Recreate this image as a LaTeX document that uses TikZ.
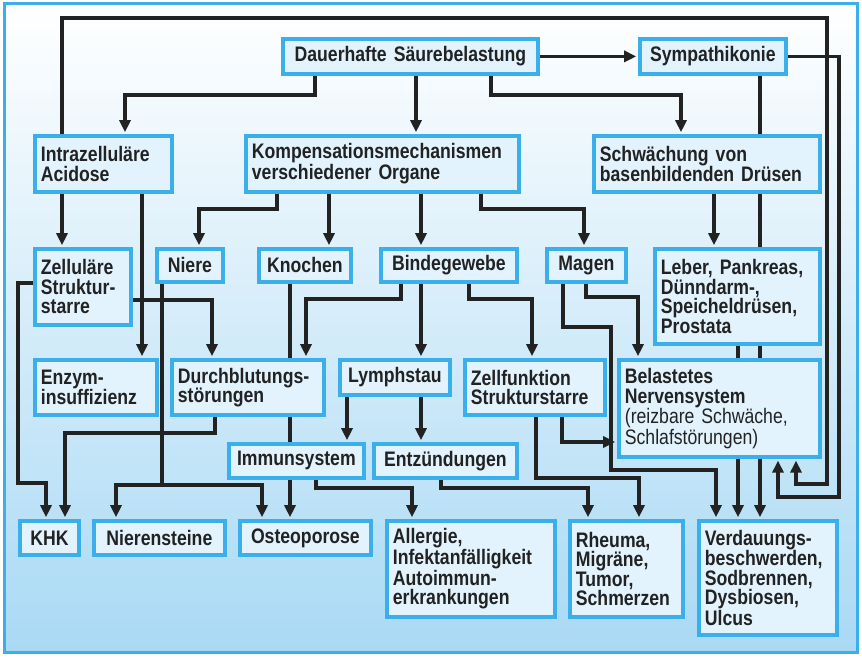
\documentclass[tikz,border=0pt]{standalone}
\usepackage{fontspec}
\setmainfont{Liberation Sans}[FakeStretch=0.84]
\usetikzlibrary{arrows.meta}
\definecolor{bblue}{HTML}{3AAFEA}
\definecolor{bfill}{HTML}{E2F3FD}
\definecolor{bgbot}{HTML}{A9D9F4}
\definecolor{ink}{HTML}{222222}
\pgfdeclarelayer{bg}\pgfdeclarelayer{back}
\pgfsetlayers{back,bg,main}
\tikzset{
 box/.style={draw=bblue,fill=bfill,line width=3.8pt,inner sep=0pt,font=\bfseries\fontsize{21}{19.5}\selectfont,text=ink},
 ln/.style={draw=ink,line width=3.2pt},
 arr/.style={ln,-{Triangle[length=12pt,width=11pt]},shorten >=1.8pt}
}
\newcommand\bx[7][left]{%
 \pgfmathsetmacro\bw{#5-#3}\pgfmathsetmacro\bh{#6-#4}\pgfmathsetmacro\tw{#5-#3-12}%
 \node[box,anchor=north west,minimum width=\bw pt,minimum height=\bh pt,text width=\tw pt,align=#1] (#2) at (#3,#4) {#7};}
\begin{document}
\begin{tikzpicture}[x=1pt,y=-1pt]
\useasboundingbox (0,0) rectangle (862,658);
\begin{pgfonlayer}{back}
\fill[top color=white,bottom color=bgbot] (4,4) rectangle (857,652);
\draw[bblue,line width=3pt] (4,4) rectangle (857,652);
\end{pgfonlayer}
\bx[center]{dau}{281}{37}{536}{72}{Dauerhafte Säurebelastung}
\bx[center]{sym}{638}{37}{784}{72}{Sympathikonie}
\bx{intra}{33}{134}{170}{190}{Intrazelluläre\\Acidose}
\bx{komp}{244}{134}{517}{190}{Kompensationsmechanismen\\verschiedener Organe}
\bx{schw}{592}{134}{818}{190}{Schwächung von\\basenbildenden Drüsen}
\bx{zell}{33}{247}{129}{323}{Zelluläre\\Struktur-\\starre}
\bx[center]{niere}{155}{247}{221}{280}{Niere}
\bx[center]{kno}{257}{247}{349}{280}{Knochen}
\bx[center]{bind}{379}{247}{515}{280}{Bindegewebe}
\bx[center]{mag}{545}{247}{624}{280}{Magen}
\bx{leb}{653}{247}{818}{342}{Leber, Pankreas,\\Dünndarm-,\\Speicheldrüsen,\\Prostata}
\bx{enz}{33}{358}{155}{413}{Enzym-\\insuffizienz}
\bx{durch}{170}{358}{322}{413}{\mbox{Durchblutungs-}\\störungen}
\bx[center]{lym}{338}{358}{448}{393}{Lymphstau}
\bx{zf}{463}{358}{603}{413}{Zellfunktion\\Strukturstarre}
\bx{bel}{617}{358}{818}{455}{Belastetes\\Nervensystem\\{\mdseries(reizbare Schwäche,\\Schlafstörungen)}}
\bx[center]{imm}{227}{442}{362}{476}{Immunsystem}
\bx[center]{ent}{372}{442}{515}{476}{Entzündungen}
\bx[center]{khk}{18}{519}{77}{553}{KHK}
\bx[center]{nst}{92}{519}{223}{553}{Nierensteine}
\bx[center]{ost}{238}{519}{369}{553}{Osteoporose}
\bx{all}{385}{519}{553}{615}{Allergie,\\Infektanfälligkeit\\Autoimmun-\\erkrankungen}
\bx{rh}{568}{519}{681}{615}{Rheuma,\\Migräne,\\Tumor,\\Schmerzen}
\bx{verd}{697}{519}{835}{633}{Verdauungs-\\beschwerden,\\Sodbrennen,\\Dysbiosen,\\Ulcus}
\begin{pgfonlayer}{bg}
\draw[arr] (315,0 |- dau.south) |- (125,95) -- (125,0 |- intra.north);
\draw[arr] (416,0 |- dau.south) -- (416,0 |- komp.north);
\draw[arr] (491,0 |- dau.south) |- (681,95) -- (681,0 |- schw.north);
\draw[arr] (dau.east) -- (sym.west);
\draw[arr] (sym.east) -| (839,497) -| (778,0 |- bel.south);
\draw[arr] (62,0 |- intra.north) |- (827,18) |- (796,484) -- (796,0 |- bel.south);
\draw[arr] (760,0 |- sym.south) -- (760,0 |- verd.north);
\draw[arr] (714,0 |- schw.south) -- (714,0 |- leb.north);
\draw[arr] (738,0 |- leb.south) -- (738,0 |- verd.north);
\draw[arr] (142,0 |- intra.south) -- (142,0 |- enz.north);
\draw[arr] (62,0 |- intra.south) -- (62,0 |- zell.north);
\draw[arr] (zell.west |- 0,283) -| (18,483) -| (46,0 |- khk.north);
\draw[arr] (zell.east |- 0,300) -| (212,0 |- durch.north);
\draw[arr] (277,0 |- komp.south) |- (199,209) -- (199,0 |- niere.north);
\draw[arr] (329,0 |- komp.south) -- (329,0 |- kno.north);
\draw[arr] (421,0 |- komp.south) -- (421,0 |- bind.north);
\draw[arr] (481,0 |- komp.south) |- (584,209) -- (584,0 |- mag.north);
\coordinate (nj) at (162,485);
\draw[ln] (162,0 |- niere.south) -- (nj);
\draw[arr] (nj) -| (116,0 |- nst.north);
\draw[arr] (nj) -| (262,0 |- ost.north);
\draw[arr] (290,0 |- kno.south) -- (290,0 |- ost.north);
\draw[arr] (401,0 |- bind.south) |- (306,299) -- (306,0 |- durch.north);
\draw[arr] (421,0 |- bind.south) -- (421,0 |- lym.north);
\draw[arr] (469,0 |- bind.south) |- (532,299) -- (532,0 |- zf.north);
\draw[arr] (563,0 |- mag.south) |- (611,327) |- (716,470) -- (716,0 |- verd.north);
\draw[arr] (586,0 |- mag.south) |- (638,297) -- (638,0 |- bel.north);
\draw[arr] (562,0 |- zf.south) |- (bel.west |- 0,442);
\draw[arr] (215,0 |- durch.south) |- (65,433) -- (65,0 |- khk.north);
\draw[arr] (347,0 |- lym.south) -- (347,0 |- imm.north);
\draw[arr] (421,0 |- lym.south) -- (421,0 |- ent.north);
\draw[arr] (316,0 |- imm.south) |- (412,488) -- (412,0 |- all.north);
\draw[arr] (441,0 |- ent.south) |- (588,488) -- (588,0 |- rh.north);
\draw[arr] (536,0 |- zf.south) |- (639,478) -- (639,0 |- rh.north);
\end{pgfonlayer}
\end{tikzpicture}
\end{document}
